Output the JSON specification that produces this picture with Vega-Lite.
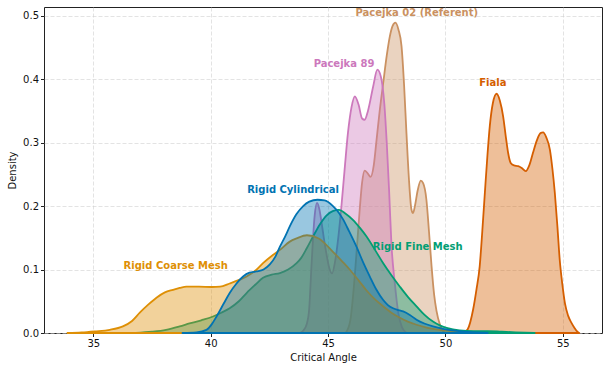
{
  "$schema": "https://vega.github.io/schema/vega-lite/v6.json",
  "width": 558,
  "height": 326,
  "autosize": {"type": "none"},
  "padding": {"left": 44, "top": 7, "right": 7, "bottom": 38},
  "background": "white",
  "config": {
    "font": "DejaVu Sans",
    "view": {"stroke": "#222222", "strokeWidth": 1},
    "axis": {
      "domain": false,
      "tickColor": "#222222",
      "tickSize": 3.5,
      "labelFontSize": 10,
      "labelColor": "#111111",
      "labelPadding": 2,
      "titleFontSize": 10,
      "titleFontWeight": "normal",
      "titleColor": "#111111",
      "grid": true,
      "gridColor": "#cccccc",
      "gridOpacity": 0.7,
      "gridDash": [4, 2],
      "gridWidth": 0.8
    }
  },
  "datasets": {
    "curves": [
      {"series": "Pacejka 02 (Referent)", "x": 45.75, "d": 0},
      {"series": "Pacejka 02 (Referent)", "x": 45.95, "d": 0.02},
      {"series": "Pacejka 02 (Referent)", "x": 46.07, "d": 0.06},
      {"series": "Pacejka 02 (Referent)", "x": 46.2, "d": 0.12},
      {"series": "Pacejka 02 (Referent)", "x": 46.35, "d": 0.195},
      {"series": "Pacejka 02 (Referent)", "x": 46.45, "d": 0.237},
      {"series": "Pacejka 02 (Referent)", "x": 46.56, "d": 0.256},
      {"series": "Pacejka 02 (Referent)", "x": 46.68, "d": 0.252},
      {"series": "Pacejka 02 (Referent)", "x": 46.81, "d": 0.246},
      {"series": "Pacejka 02 (Referent)", "x": 46.95, "d": 0.265},
      {"series": "Pacejka 02 (Referent)", "x": 47.06, "d": 0.302},
      {"series": "Pacejka 02 (Referent)", "x": 47.2, "d": 0.35},
      {"series": "Pacejka 02 (Referent)", "x": 47.35, "d": 0.394},
      {"series": "Pacejka 02 (Referent)", "x": 47.5, "d": 0.437},
      {"series": "Pacejka 02 (Referent)", "x": 47.63, "d": 0.467},
      {"series": "Pacejka 02 (Referent)", "x": 47.75, "d": 0.484},
      {"series": "Pacejka 02 (Referent)", "x": 47.87, "d": 0.489},
      {"series": "Pacejka 02 (Referent)", "x": 48.0, "d": 0.478},
      {"series": "Pacejka 02 (Referent)", "x": 48.13, "d": 0.452},
      {"series": "Pacejka 02 (Referent)", "x": 48.24, "d": 0.39},
      {"series": "Pacejka 02 (Referent)", "x": 48.34, "d": 0.315},
      {"series": "Pacejka 02 (Referent)", "x": 48.45, "d": 0.24},
      {"series": "Pacejka 02 (Referent)", "x": 48.55, "d": 0.195},
      {"series": "Pacejka 02 (Referent)", "x": 48.62, "d": 0.189},
      {"series": "Pacejka 02 (Referent)", "x": 48.7, "d": 0.2},
      {"series": "Pacejka 02 (Referent)", "x": 48.82, "d": 0.225},
      {"series": "Pacejka 02 (Referent)", "x": 48.95, "d": 0.24},
      {"series": "Pacejka 02 (Referent)", "x": 49.05, "d": 0.236},
      {"series": "Pacejka 02 (Referent)", "x": 49.19, "d": 0.21},
      {"series": "Pacejka 02 (Referent)", "x": 49.3, "d": 0.16},
      {"series": "Pacejka 02 (Referent)", "x": 49.41, "d": 0.105},
      {"series": "Pacejka 02 (Referent)", "x": 49.52, "d": 0.06},
      {"series": "Pacejka 02 (Referent)", "x": 49.62, "d": 0.035},
      {"series": "Pacejka 02 (Referent)", "x": 49.76, "d": 0.014},
      {"series": "Pacejka 02 (Referent)", "x": 49.9, "d": 0.003},
      {"series": "Pacejka 02 (Referent)", "x": 50.0, "d": 0},

      {"series": "Pacejka 89", "x": 43.8, "d": 0},
      {"series": "Pacejka 89", "x": 43.95, "d": 0.004},
      {"series": "Pacejka 89", "x": 44.1, "d": 0.015},
      {"series": "Pacejka 89", "x": 44.19, "d": 0.035},
      {"series": "Pacejka 89", "x": 44.3, "d": 0.11},
      {"series": "Pacejka 89", "x": 44.43, "d": 0.185},
      {"series": "Pacejka 89", "x": 44.53, "d": 0.205},
      {"series": "Pacejka 89", "x": 44.63, "d": 0.195},
      {"series": "Pacejka 89", "x": 44.72, "d": 0.175},
      {"series": "Pacejka 89", "x": 44.82, "d": 0.15},
      {"series": "Pacejka 89", "x": 44.93, "d": 0.125},
      {"series": "Pacejka 89", "x": 45.05, "d": 0.103},
      {"series": "Pacejka 89", "x": 45.17, "d": 0.094},
      {"series": "Pacejka 89", "x": 45.3, "d": 0.113},
      {"series": "Pacejka 89", "x": 45.45, "d": 0.155},
      {"series": "Pacejka 89", "x": 45.57, "d": 0.2},
      {"series": "Pacejka 89", "x": 45.7, "d": 0.255},
      {"series": "Pacejka 89", "x": 45.85, "d": 0.316},
      {"series": "Pacejka 89", "x": 46.0, "d": 0.356},
      {"series": "Pacejka 89", "x": 46.14, "d": 0.373},
      {"series": "Pacejka 89", "x": 46.3, "d": 0.36},
      {"series": "Pacejka 89", "x": 46.45, "d": 0.338},
      {"series": "Pacejka 89", "x": 46.56, "d": 0.336},
      {"series": "Pacejka 89", "x": 46.7, "d": 0.35},
      {"series": "Pacejka 89", "x": 46.92, "d": 0.388},
      {"series": "Pacejka 89", "x": 47.1, "d": 0.415},
      {"series": "Pacejka 89", "x": 47.25, "d": 0.404},
      {"series": "Pacejka 89", "x": 47.4, "d": 0.36},
      {"series": "Pacejka 89", "x": 47.5, "d": 0.3},
      {"series": "Pacejka 89", "x": 47.6, "d": 0.225},
      {"series": "Pacejka 89", "x": 47.7, "d": 0.14},
      {"series": "Pacejka 89", "x": 47.84, "d": 0.08},
      {"series": "Pacejka 89", "x": 48.0, "d": 0.03},
      {"series": "Pacejka 89", "x": 48.15, "d": 0.009},
      {"series": "Pacejka 89", "x": 48.35, "d": 0},

      {"series": "Fiala", "x": 50.75, "d": 0},
      {"series": "Fiala", "x": 50.95, "d": 0.006},
      {"series": "Fiala", "x": 51.18, "d": 0.037},
      {"series": "Fiala", "x": 51.32, "d": 0.068},
      {"series": "Fiala", "x": 51.46, "d": 0.105},
      {"series": "Fiala", "x": 51.57, "d": 0.16},
      {"series": "Fiala", "x": 51.68, "d": 0.221},
      {"series": "Fiala", "x": 51.79, "d": 0.28},
      {"series": "Fiala", "x": 51.89, "d": 0.326},
      {"series": "Fiala", "x": 52.02, "d": 0.362},
      {"series": "Fiala", "x": 52.18, "d": 0.377},
      {"series": "Fiala", "x": 52.32, "d": 0.366},
      {"series": "Fiala", "x": 52.46, "d": 0.341},
      {"series": "Fiala", "x": 52.57, "d": 0.31},
      {"series": "Fiala", "x": 52.67, "d": 0.284},
      {"series": "Fiala", "x": 52.78, "d": 0.268},
      {"series": "Fiala", "x": 52.92, "d": 0.264},
      {"series": "Fiala", "x": 53.1, "d": 0.263},
      {"series": "Fiala", "x": 53.25, "d": 0.26},
      {"series": "Fiala", "x": 53.42, "d": 0.255},
      {"series": "Fiala", "x": 53.58, "d": 0.265},
      {"series": "Fiala", "x": 53.73, "d": 0.284},
      {"series": "Fiala", "x": 53.9, "d": 0.304},
      {"series": "Fiala", "x": 54.05, "d": 0.315},
      {"series": "Fiala", "x": 54.16, "d": 0.316},
      {"series": "Fiala", "x": 54.3, "d": 0.308},
      {"series": "Fiala", "x": 54.45, "d": 0.289},
      {"series": "Fiala", "x": 54.56, "d": 0.258},
      {"series": "Fiala", "x": 54.66, "d": 0.221},
      {"series": "Fiala", "x": 54.77, "d": 0.168},
      {"series": "Fiala", "x": 54.87, "d": 0.115},
      {"series": "Fiala", "x": 54.98, "d": 0.077},
      {"series": "Fiala", "x": 55.09, "d": 0.047},
      {"series": "Fiala", "x": 55.23, "d": 0.027},
      {"series": "Fiala", "x": 55.37, "d": 0.016},
      {"series": "Fiala", "x": 55.5, "d": 0.008},
      {"series": "Fiala", "x": 55.61, "d": 0.0025},
      {"series": "Fiala", "x": 55.7, "d": 0},

      {"series": "Rigid Fine Mesh", "x": 36.8, "d": 0},
      {"series": "Rigid Fine Mesh", "x": 37.5, "d": 0.002},
      {"series": "Rigid Fine Mesh", "x": 38.1, "d": 0.005},
      {"series": "Rigid Fine Mesh", "x": 38.68, "d": 0.0104},
      {"series": "Rigid Fine Mesh", "x": 39.1, "d": 0.015},
      {"series": "Rigid Fine Mesh", "x": 39.6, "d": 0.02},
      {"series": "Rigid Fine Mesh", "x": 40.1, "d": 0.026},
      {"series": "Rigid Fine Mesh", "x": 40.45, "d": 0.032},
      {"series": "Rigid Fine Mesh", "x": 40.81, "d": 0.039},
      {"series": "Rigid Fine Mesh", "x": 41.2, "d": 0.05},
      {"series": "Rigid Fine Mesh", "x": 41.53, "d": 0.063},
      {"series": "Rigid Fine Mesh", "x": 41.9, "d": 0.076},
      {"series": "Rigid Fine Mesh", "x": 42.23, "d": 0.087},
      {"series": "Rigid Fine Mesh", "x": 42.6, "d": 0.092},
      {"series": "Rigid Fine Mesh", "x": 42.95, "d": 0.0945},
      {"series": "Rigid Fine Mesh", "x": 43.3, "d": 0.1},
      {"series": "Rigid Fine Mesh", "x": 43.66, "d": 0.11},
      {"series": "Rigid Fine Mesh", "x": 43.85, "d": 0.118},
      {"series": "Rigid Fine Mesh", "x": 44.1, "d": 0.134},
      {"series": "Rigid Fine Mesh", "x": 44.36, "d": 0.152},
      {"series": "Rigid Fine Mesh", "x": 44.65, "d": 0.171},
      {"series": "Rigid Fine Mesh", "x": 44.93, "d": 0.185},
      {"series": "Rigid Fine Mesh", "x": 45.2, "d": 0.192},
      {"series": "Rigid Fine Mesh", "x": 45.47, "d": 0.194},
      {"series": "Rigid Fine Mesh", "x": 45.75, "d": 0.188},
      {"series": "Rigid Fine Mesh", "x": 46.07, "d": 0.178},
      {"series": "Rigid Fine Mesh", "x": 46.35, "d": 0.166},
      {"series": "Rigid Fine Mesh", "x": 46.64, "d": 0.152},
      {"series": "Rigid Fine Mesh", "x": 47.0, "d": 0.131},
      {"series": "Rigid Fine Mesh", "x": 47.35, "d": 0.11},
      {"series": "Rigid Fine Mesh", "x": 47.7, "d": 0.091},
      {"series": "Rigid Fine Mesh", "x": 48.06, "d": 0.073},
      {"series": "Rigid Fine Mesh", "x": 48.4, "d": 0.057},
      {"series": "Rigid Fine Mesh", "x": 48.77, "d": 0.042},
      {"series": "Rigid Fine Mesh", "x": 49.1, "d": 0.029},
      {"series": "Rigid Fine Mesh", "x": 49.47, "d": 0.018},
      {"series": "Rigid Fine Mesh", "x": 49.76, "d": 0.012},
      {"series": "Rigid Fine Mesh", "x": 50.05, "d": 0.008},
      {"series": "Rigid Fine Mesh", "x": 50.6, "d": 0.004},
      {"series": "Rigid Fine Mesh", "x": 51.2, "d": 0.003},
      {"series": "Rigid Fine Mesh", "x": 51.8, "d": 0.003},
      {"series": "Rigid Fine Mesh", "x": 52.4, "d": 0.002},
      {"series": "Rigid Fine Mesh", "x": 53.0, "d": 0.001},
      {"series": "Rigid Fine Mesh", "x": 53.8, "d": 0},

      {"series": "Rigid Coarse Mesh", "x": 33.9, "d": 0},
      {"series": "Rigid Coarse Mesh", "x": 34.5, "d": 0.0008},
      {"series": "Rigid Coarse Mesh", "x": 35.06, "d": 0.0025},
      {"series": "Rigid Coarse Mesh", "x": 35.7, "d": 0.005},
      {"series": "Rigid Coarse Mesh", "x": 36.26, "d": 0.0104},
      {"series": "Rigid Coarse Mesh", "x": 36.65, "d": 0.019},
      {"series": "Rigid Coarse Mesh", "x": 36.98, "d": 0.032},
      {"series": "Rigid Coarse Mesh", "x": 37.35, "d": 0.045},
      {"series": "Rigid Coarse Mesh", "x": 37.69, "d": 0.0556},
      {"series": "Rigid Coarse Mesh", "x": 38.05, "d": 0.064},
      {"series": "Rigid Coarse Mesh", "x": 38.39, "d": 0.068},
      {"series": "Rigid Coarse Mesh", "x": 38.68, "d": 0.071},
      {"series": "Rigid Coarse Mesh", "x": 38.97, "d": 0.073},
      {"series": "Rigid Coarse Mesh", "x": 39.5, "d": 0.073},
      {"series": "Rigid Coarse Mesh", "x": 40.04, "d": 0.0725},
      {"series": "Rigid Coarse Mesh", "x": 40.4, "d": 0.073},
      {"series": "Rigid Coarse Mesh", "x": 40.81, "d": 0.078},
      {"series": "Rigid Coarse Mesh", "x": 41.24, "d": 0.084},
      {"series": "Rigid Coarse Mesh", "x": 41.53, "d": 0.089},
      {"series": "Rigid Coarse Mesh", "x": 41.95, "d": 0.0997},
      {"series": "Rigid Coarse Mesh", "x": 42.23, "d": 0.11},
      {"series": "Rigid Coarse Mesh", "x": 42.65, "d": 0.123},
      {"series": "Rigid Coarse Mesh", "x": 42.95, "d": 0.131},
      {"series": "Rigid Coarse Mesh", "x": 43.37, "d": 0.144},
      {"series": "Rigid Coarse Mesh", "x": 43.66, "d": 0.149},
      {"series": "Rigid Coarse Mesh", "x": 44.1, "d": 0.154},
      {"series": "Rigid Coarse Mesh", "x": 44.6, "d": 0.149},
      {"series": "Rigid Coarse Mesh", "x": 45.21, "d": 0.128},
      {"series": "Rigid Coarse Mesh", "x": 45.6, "d": 0.113},
      {"series": "Rigid Coarse Mesh", "x": 45.93, "d": 0.0997},
      {"series": "Rigid Coarse Mesh", "x": 46.3, "d": 0.083},
      {"series": "Rigid Coarse Mesh", "x": 46.64, "d": 0.067},
      {"series": "Rigid Coarse Mesh", "x": 47.0, "d": 0.053},
      {"series": "Rigid Coarse Mesh", "x": 47.35, "d": 0.042},
      {"series": "Rigid Coarse Mesh", "x": 47.7, "d": 0.032},
      {"series": "Rigid Coarse Mesh", "x": 48.06, "d": 0.024},
      {"series": "Rigid Coarse Mesh", "x": 48.4, "d": 0.018},
      {"series": "Rigid Coarse Mesh", "x": 48.77, "d": 0.013},
      {"series": "Rigid Coarse Mesh", "x": 49.2, "d": 0.0085},
      {"series": "Rigid Coarse Mesh", "x": 49.76, "d": 0.005},
      {"series": "Rigid Coarse Mesh", "x": 50.2, "d": 0.003},
      {"series": "Rigid Coarse Mesh", "x": 50.6, "d": 0.0015},
      {"series": "Rigid Coarse Mesh", "x": 51.0, "d": 0},

      {"series": "Rigid Cylindrical", "x": 38.8, "d": 0},
      {"series": "Rigid Cylindrical", "x": 39.4, "d": 0.001},
      {"series": "Rigid Cylindrical", "x": 39.82, "d": 0.005},
      {"series": "Rigid Cylindrical", "x": 40.05, "d": 0.014},
      {"series": "Rigid Cylindrical", "x": 40.25, "d": 0.026},
      {"series": "Rigid Cylindrical", "x": 40.55, "d": 0.046},
      {"series": "Rigid Cylindrical", "x": 40.81, "d": 0.063},
      {"series": "Rigid Cylindrical", "x": 41.1, "d": 0.078},
      {"series": "Rigid Cylindrical", "x": 41.38, "d": 0.089},
      {"series": "Rigid Cylindrical", "x": 41.65, "d": 0.095},
      {"series": "Rigid Cylindrical", "x": 41.95, "d": 0.097},
      {"series": "Rigid Cylindrical", "x": 42.25, "d": 0.1},
      {"series": "Rigid Cylindrical", "x": 42.52, "d": 0.108},
      {"series": "Rigid Cylindrical", "x": 42.75, "d": 0.12},
      {"series": "Rigid Cylindrical", "x": 42.95, "d": 0.136},
      {"series": "Rigid Cylindrical", "x": 43.17, "d": 0.152},
      {"series": "Rigid Cylindrical", "x": 43.37, "d": 0.168},
      {"series": "Rigid Cylindrical", "x": 43.65, "d": 0.187},
      {"series": "Rigid Cylindrical", "x": 43.94, "d": 0.2},
      {"series": "Rigid Cylindrical", "x": 44.2, "d": 0.207},
      {"series": "Rigid Cylindrical", "x": 44.55, "d": 0.21},
      {"series": "Rigid Cylindrical", "x": 44.85, "d": 0.209},
      {"series": "Rigid Cylindrical", "x": 45.21, "d": 0.2},
      {"series": "Rigid Cylindrical", "x": 45.45, "d": 0.19},
      {"series": "Rigid Cylindrical", "x": 45.64, "d": 0.179},
      {"series": "Rigid Cylindrical", "x": 45.9, "d": 0.16},
      {"series": "Rigid Cylindrical", "x": 46.21, "d": 0.136},
      {"series": "Rigid Cylindrical", "x": 46.5, "d": 0.111},
      {"series": "Rigid Cylindrical", "x": 46.78, "d": 0.089},
      {"series": "Rigid Cylindrical", "x": 47.05, "d": 0.069},
      {"series": "Rigid Cylindrical", "x": 47.35, "d": 0.052},
      {"series": "Rigid Cylindrical", "x": 47.55, "d": 0.044},
      {"series": "Rigid Cylindrical", "x": 47.77, "d": 0.039},
      {"series": "Rigid Cylindrical", "x": 48.0, "d": 0.036},
      {"series": "Rigid Cylindrical", "x": 48.2, "d": 0.034},
      {"series": "Rigid Cylindrical", "x": 48.5, "d": 0.028},
      {"series": "Rigid Cylindrical", "x": 48.77, "d": 0.021},
      {"series": "Rigid Cylindrical", "x": 49.1, "d": 0.015},
      {"series": "Rigid Cylindrical", "x": 49.47, "d": 0.0104},
      {"series": "Rigid Cylindrical", "x": 49.9, "d": 0.0065},
      {"series": "Rigid Cylindrical", "x": 50.33, "d": 0.004},
      {"series": "Rigid Cylindrical", "x": 50.8, "d": 0.002},
      {"series": "Rigid Cylindrical", "x": 51.3, "d": 0.001},
      {"series": "Rigid Cylindrical", "x": 51.8, "d": 0}
    ],
    "labels": [
      {"series": "Rigid Coarse Mesh", "x": 38.51, "d": 0.105},
      {"series": "Rigid Cylindrical", "x": 43.51, "d": 0.2255},
      {"series": "Rigid Fine Mesh", "x": 48.82, "d": 0.1355},
      {"series": "Pacejka 89", "x": 45.68, "d": 0.4243},
      {"series": "Pacejka 02 (Referent)", "x": 48.78, "d": 0.5035},
      {"series": "Fiala", "x": 52.02, "d": 0.394}
    ]
  },
  "data": {"name": "curves"},
  "encoding": {
    "x": {
      "field": "x", "type": "quantitative", "title": "Critical Angle",
      "scale": {"domain": [32.9, 56.67], "nice": false, "zero": false},
      "axis": {"values": [35, 40, 45, 50, 55], "titlePadding": 4}
    },
    "y": {
      "field": "d", "type": "quantitative", "title": "Density",
      "scale": {"domain": [0, 0.5137], "nice": false},
      "axis": {"values": [0, 0.1, 0.2, 0.3, 0.4, 0.5], "format": ".1f", "titlePadding": 5}
    },
    "fill": {
      "field": "series", "type": "nominal", "legend": null,
      "scale": {
        "domain": ["Rigid Cylindrical", "Rigid Coarse Mesh", "Rigid Fine Mesh", "Fiala", "Pacejka 89", "Pacejka 02 (Referent)"],
        "range": ["#0173B2", "#DE8F05", "#029E73", "#D55E00", "#CC78BC", "#CA9161"]
      }
    },
    "stroke": {
      "field": "series", "type": "nominal", "legend": null,
      "scale": {
        "domain": ["Rigid Cylindrical", "Rigid Coarse Mesh", "Rigid Fine Mesh", "Fiala", "Pacejka 89", "Pacejka 02 (Referent)"],
        "range": ["#0173B2", "#DE8F05", "#029E73", "#D55E00", "#CC78BC", "#CA9161"]
      }
    }
  },
  "layer": [
    {"transform": [{"filter": "datum.series === 'Pacejka 02 (Referent)'"}], "mark": {"type": "area", "interpolate": "monotone", "fillOpacity": 0.4, "strokeWidth": 1.8, "strokeJoin": "round"}},
    {"transform": [{"filter": "datum.series === 'Pacejka 89'"}], "mark": {"type": "area", "interpolate": "monotone", "fillOpacity": 0.4, "strokeWidth": 1.8, "strokeJoin": "round"}},
    {"transform": [{"filter": "datum.series === 'Fiala'"}], "mark": {"type": "area", "interpolate": "monotone", "fillOpacity": 0.4, "strokeWidth": 1.8, "strokeJoin": "round"}},
    {"transform": [{"filter": "datum.series === 'Rigid Fine Mesh'"}], "mark": {"type": "area", "interpolate": "monotone", "fillOpacity": 0.4, "strokeWidth": 1.8, "strokeJoin": "round"}},
    {"transform": [{"filter": "datum.series === 'Rigid Coarse Mesh'"}], "mark": {"type": "area", "interpolate": "monotone", "fillOpacity": 0.4, "strokeWidth": 1.8, "strokeJoin": "round"}},
    {"transform": [{"filter": "datum.series === 'Rigid Cylindrical'"}], "mark": {"type": "area", "interpolate": "monotone", "fillOpacity": 0.4, "strokeWidth": 1.8, "strokeJoin": "round"}},
    {
      "data": {"name": "labels"},
      "mark": {"type": "text", "fontWeight": "bold", "fontSize": 10, "align": "center", "baseline": "middle"},
      "encoding": {
        "text": {"field": "series"},
        "stroke": {"value": null}
      }
    }
  ]
}
